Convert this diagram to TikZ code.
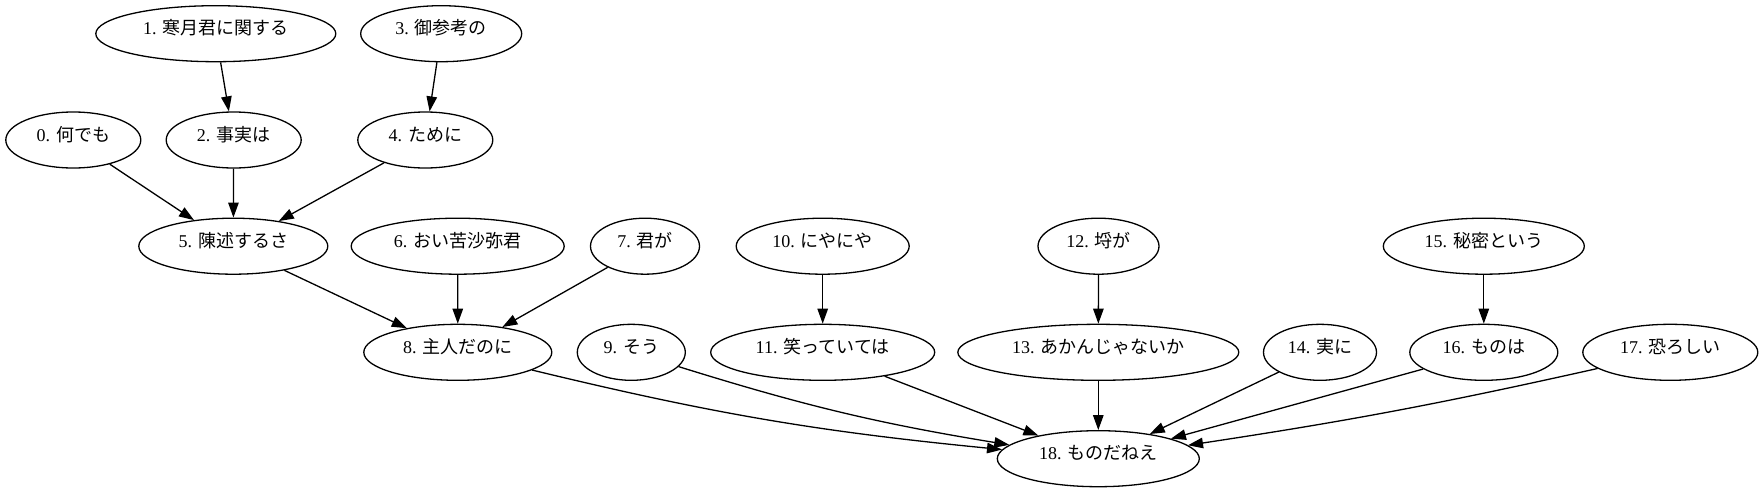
\documentclass[tikz,border=0pt]{standalone}
\usepackage{fontspec}
\setmainfont{Liberation Serif}
\newfontfamily\cjk{Noto Sans CJK JP}
\usetikzlibrary{shapes.geometric,arrows.meta}
\newcommand{\jlbl}[2]{#1. {\cjk #2}}
\begin{document}
\begin{tikzpicture}[x=1pt,y=1pt,
  nd/.style={ellipse, draw, line width=1.3pt, minimum height=56pt, inner sep=0pt,
    text height=3pt, text depth=1pt, font=\fontsize{18}{20}\selectfont},
  conn/.style={-{Triangle[length=15pt,width=10.5pt]}, line width=1.3pt}]
\useasboundingbox (0,0) rectangle (1764,-493);
\node[nd, minimum width=135pt] (n0) at (73.3,-140) {\jlbl{0}{何でも}};
\node[nd, minimum width=240pt] (n1) at (215.8,-33.7) {\jlbl{1}{寒月君に関する}};
\node[nd, minimum width=135pt] (n2) at (233.7,-140) {\jlbl{2}{事実は}};
\node[nd, minimum width=161pt] (n3) at (441.2,-33.7) {\jlbl{3}{御参考の}};
\node[nd, minimum width=135pt] (n4) at (425.3,-140) {\jlbl{4}{ために}};
\node[nd, minimum width=189pt] (n5) at (233.3,-246.2) {\jlbl{5}{陳述するさ}};
\node[nd, minimum width=213pt] (n6) at (457.7,-246.2) {\jlbl{6}{おい苦沙弥君}};
\node[nd, minimum width=109pt] (n7) at (645,-246.2) {\jlbl{7}{君が}};
\node[nd, minimum width=188pt] (n8) at (457.8,-352.3) {\jlbl{8}{主人だのに}};
\node[nd, minimum width=108pt] (n9) at (631.3,-352.3) {\jlbl{9}{そう}};
\node[nd, minimum width=173pt] (n10) at (822.7,-246.2) {\jlbl{10}{にやにや}};
\node[nd, minimum width=224pt] (n11) at (822.7,-352.3) {\jlbl{11}{笑っていては}};
\node[nd, minimum width=121pt] (n12) at (1098.5,-246.2) {\jlbl{12}{埒が}};
\node[nd, minimum width=281pt] (n13) at (1098.3,-352.3) {\jlbl{13}{あかんじゃないか}};
\node[nd, minimum width=113pt] (n14) at (1320,-352.3) {\jlbl{14}{実に}};
\node[nd, minimum width=201pt] (n15) at (1483.8,-246.2) {\jlbl{15}{秘密という}};
\node[nd, minimum width=148pt] (n16) at (1483.8,-352.3) {\jlbl{16}{ものは}};
\node[nd, minimum width=175pt] (n17) at (1670.3,-352.3) {\jlbl{17}{恐ろしい}};
\node[nd, minimum width=202pt] (n18) at (1098.3,-458.7) {\jlbl{18}{ものだねえ}};
\draw[conn] (n1) -- (n2);
\draw[conn] (n3) -- (n4);
\draw[conn] (n0) -- (n5);
\draw[conn] (n2) -- (n5);
\draw[conn] (n4) -- (n5);
\draw[conn] (n5) -- (n8);
\draw[conn] (n6) -- (n8);
\draw[conn] (n7) -- (n8);
\draw[conn] (n10) -- (n11);
\draw[conn] (n12) -- (n13);
\draw[conn] (n15) -- (n16);
\draw[conn] (n8) to[bend right=4] (n18);
\draw[conn] (n9) to[bend right=4] (n18);
\draw[conn] (n11) -- (n18);
\draw[conn] (n13) -- (n18);
\draw[conn] (n14) -- (n18);
\draw[conn] (n16) -- (n18);
\draw[conn] (n17) to[bend left=2] (n18);
\end{tikzpicture}
\end{document}
